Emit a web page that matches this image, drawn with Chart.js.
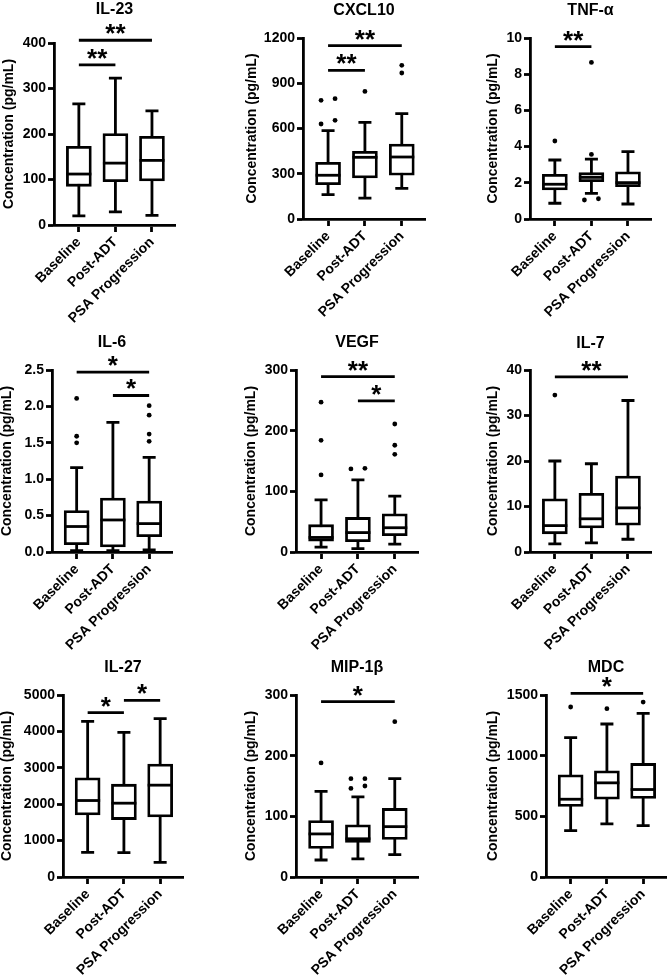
<!DOCTYPE html>
<html>
<head>
<meta charset="utf-8">
<script src="https://cdn.jsdelivr.net/npm/chart.js@4.4.1/dist/chart.umd.min.js"></script>
<style>
  html, body { margin: 0; padding: 0; background: #fff; }
  #fig { position: relative; width: 669px; height: 975px; }
  #fig canvas { position: absolute; }
</style>
</head>
<body>
<div id="fig"></div>
<script>
const groups = ["Baseline", "Post-ADT", "PSA Progression"];
const cytokines = ["IL-23", "CXCL10", "TNF-α", "IL-6", "VEGF", "IL-7", "IL-27", "MIP-1β", "MDC"];
const yMax = [400, 1200, 10, 2.5, 300, 40, 5000, 300, 1500];
const yStep = [100, 300, 2, 0.5, 100, 10, 1000, 100, 500];

// box plot stats per cytokine, one value per group
const whiskerLow = [
  [20, 29, 21], [161, 139, 203], [0.87, 1.42, 0.83],
  [0.02, 0.02, 0.03], [8, 5.5, 13], [1.8, 2.0, 2.8],
  [679, 670, 404], [28, 30, 37], [383, 438, 424]
];
const q1 = [
  [85, 95, 97], [228, 272, 290], [1.60, 2.06, 1.79],
  [0.10, 0.07, 0.21], [18, 17, 27], [4.0, 5.3, 5.9],
  [1706, 1578, 1651], [47, 57, 62], [581, 641, 647]
];
const median = [
  [112, 136, 142], [290, 409, 411], [1.92, 2.30, 2.01],
  [0.35, 0.44, 0.39], [24, 32, 40], [5.8, 7.3, 9.7],
  [2101, 2028, 2523], [71, 63, 83], [641, 776, 721]
];
const q3 = [
  [173, 201, 195], [376, 449, 497], [2.47, 2.56, 2.61],
  [0.57, 0.74, 0.70], [45, 57, 63], [11.7, 12.9, 16.7],
  [2725, 2550, 3101], [93, 86, 113], [842, 875, 936]
];
const whiskerHigh = [
  [266, 323, 251], [586, 641, 698], [3.26, 3.31, 3.72],
  [1.16, 1.78, 1.30], [86, 119, 92], [20.0, 19.4, 33.3],
  [4275, 3972, 4349], [141, 132, 162], [1148, 1261, 1349]
];
const outliers = [
  [[], [], []],
  [[630, 654, 787, 798], [846], [968, 1019]],
  [[4.31], [1.05, 1.12, 3.57, 8.65], []],
  [[1.50, 1.59, 2.11], [], [1.52, 1.62, 1.88, 2.01]],
  [[127, 184, 247], [137, 138], [161, 176, 211]],
  [[34.5], [], []],
  [[], [], []],
  [[188], [146, 150, 162, 162], [256]],
  [[1401], [1387], [1442]]
];
// [from group, to group, bar height, label]
const significance = [
  [[0, 2, 406, "**"], [0, 1, 352, "**"]],
  [[0, 2, 1149, "**"], [0, 1, 986, "**"]],
  [[0, 1, 9.52, "**"]],
  [[0, 2, 2.47, "*"], [1, 2, 2.15, "*"]],
  [[0, 2, 289, "**"], [1, 2, 249, "*"]],
  [[0, 2, 38.5, "**"]],
  [[0, 1, 4514, "*"], [1, 2, 4853, "*"]],
  [[0, 2, 289, "*"]],
  [[0, 2, 1514, "*"]]
];

// panel layout: plot left, right, top, bottom, title centre y, y-title centre x
const panelLayout = [
  [54, 175, 43, 225, 9.5, 9],
  [80, 202, 38, 219, 10.3, 29],
  [84, 205, 38, 219, 10.3, 47],
  [52, 172, 45, 227, 17.7, 7],
  [73, 195, 45, 227, 17.7, 28],
  [84, 205, 45, 227, 18.3, 47],
  [63, 183, 45, 227, 17.7, 7],
  [73, 195, 45, 227, 17.7, 28],
  [100, 220, 45, 227, 17.7, 47]
];
const PW = 223, PH = 325;
const LW = 2.8;

Chart.defaults.font.family = "'Liberation Sans', Arial, sans-serif";
Chart.defaults.color = "#000";

const boxPlot = {
  id: "boxPlot",
  beforeDatasetsDraw(chart, args, opts) {
    const k = opts.panel;
    const { ctx, scales: { x, y } } = chart;
    ctx.save();
    ctx.strokeStyle = "#000";
    ctx.lineWidth = LW;
    groups.forEach((g, i) => {
      const px = x.getPixelForValue(i);
      const lo = y.getPixelForValue(whiskerLow[k][i]);
      const hi = y.getPixelForValue(whiskerHigh[k][i]);
      ctx.beginPath();
      ctx.moveTo(px, lo); ctx.lineTo(px, hi);
      ctx.moveTo(px - 6.5, lo); ctx.lineTo(px + 6.5, lo);
      ctx.moveTo(px - 6.5, hi); ctx.lineTo(px + 6.5, hi);
      ctx.stroke();
    });
    ctx.restore();
  },
  afterDatasetsDraw(chart, args, opts) {
    const k = opts.panel;
    const { ctx, scales: { x, y } } = chart;
    const meta = chart.getDatasetMeta(0);
    ctx.save();
    ctx.strokeStyle = "#000";
    ctx.fillStyle = "#000";
    ctx.lineWidth = LW;
    groups.forEach((g, i) => {
      const px = x.getPixelForValue(i);
      const half = meta.data[i].width / 2;
      const m = y.getPixelForValue(median[k][i]);
      ctx.beginPath();
      ctx.moveTo(px - half, m); ctx.lineTo(px + half, m);
      ctx.stroke();

      // outliers: spread close pairs sideways like the original
      const pts = outliers[k][i].slice().sort((a, b) => a - b).map(v => y.getPixelForValue(v));
      let j = 0;
      while (j < pts.length) {
        if (j + 1 < pts.length && Math.abs(pts[j] - pts[j + 1]) < 6) {
          dot(ctx, px - 7, pts[j]); dot(ctx, px + 7, pts[j + 1]);
          j += 2;
        } else {
          dot(ctx, px, pts[j]);
          j += 1;
        }
      }
    });

    significance[k].forEach(([a, b, v, label]) => {
      const yy = y.getPixelForValue(v);
      const xa = x.getPixelForValue(a), xb = x.getPixelForValue(b);
      ctx.beginPath();
      ctx.moveTo(xa, yy); ctx.lineTo(xb, yy);
      ctx.stroke();
      ctx.font = "bold 26px 'Liberation Sans', Arial, sans-serif";
      ctx.textAlign = "center";
      ctx.textBaseline = "alphabetic";
      ctx.fillText(label, (xa + xb) / 2, yy + 2);
    });
    ctx.restore();
  }
};

function dot(ctx, cx, cy) {
  ctx.beginPath();
  ctx.arc(cx, cy, 2.4, 0, Math.PI * 2);
  ctx.fill();
}

const fig = document.getElementById("fig");

cytokines.forEach((name, k) => {
  const [left, right, top, bottom, titleY, yTitleX] = panelLayout[k];
  const canvas = document.createElement("canvas");
  canvas.width = PW;
  canvas.height = PH;
  canvas.style.left = (k % 3) * PW + "px";
  canvas.style.top = Math.floor(k / 3) * PH + "px";
  fig.appendChild(canvas);

  const decimals = yStep[k] < 1 ? 1 : 0;

  new Chart(canvas.getContext("2d"), {
    type: "bar",
    data: {
      datasets: [{
        data: groups.map((g, i) => ({ x: i, y: [q1[k][i], q3[k][i]] })),
        backgroundColor: "#fff",
        borderColor: "#000",
        borderWidth: LW,
        borderSkipped: false,
        barThickness: 25
      }]
    },
    options: {
      responsive: false,
      animation: false,
      layout: { padding: { left: 0, right: PW - right, top: 0, bottom: 0 } },
      plugins: {
        legend: { display: false },
        tooltip: { enabled: false },
        title: {
          display: true,
          text: name,
          fullSize: false,
          color: "#000",
          font: { size: 16, weight: "bold", lineHeight: 1 },
          padding: { top: titleY - 8, bottom: top - (titleY - 8) - 16 }
        },
        boxPlot: { panel: k }
      },
      scales: {
        x: {
          type: "linear",
          offset: false,
          min: -0.68,
          max: 2.63,
          afterBuildTicks: s => { s.ticks = groups.map((g, i) => ({ value: i })); },
          afterFit: s => { s.height = PH - bottom; },
          grid: { drawOnChartArea: false, offset: false, tickLength: 7, tickWidth: LW, tickColor: "#000" },
          border: { color: "#000", width: LW },
          ticks: {
            autoSkip: false,
            minRotation: 45,
            maxRotation: 45,
            padding: 2,
            color: "#000",
            font: { size: 14, weight: "bold" },
            callback: v => groups[v]
          }
        },
        y: {
          min: 0,
          max: yMax[k],
          afterFit: s => { s.width = left; },
          grid: { drawOnChartArea: false, tickLength: 6, tickWidth: LW, tickColor: "#000" },
          border: { color: "#000", width: LW },
          ticks: {
            stepSize: yStep[k],
            padding: 2,
            color: "#000",
            font: { size: 14, weight: "bold" },
            callback: v => v.toFixed(decimals)
          },
          title: {
            display: true,
            text: "Concentration (pg/mL)",
            color: "#000",
            font: { size: 14, weight: "bold", lineHeight: 1 },
            padding: { top: yTitleX - 7, bottom: 0 }
          }
        }
      }
    },
    plugins: [boxPlot]
  });
});
</script>
</body>
</html>
